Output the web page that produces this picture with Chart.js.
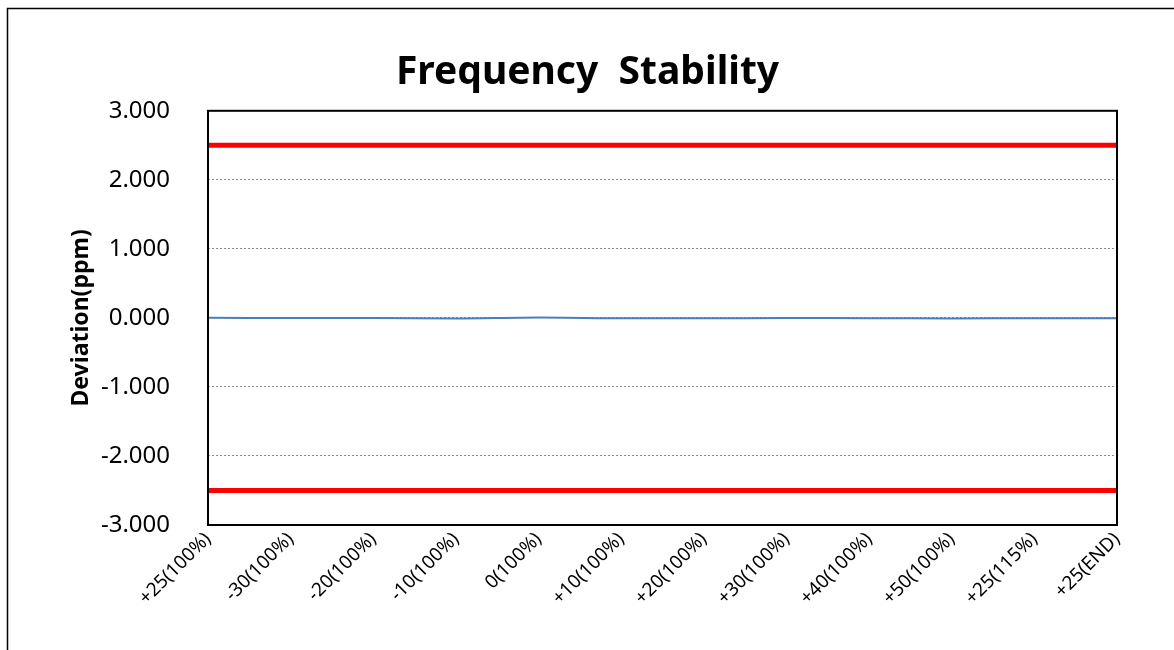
<!DOCTYPE html>
<html>
<head>
<meta charset="utf-8">
<script src="https://cdn.jsdelivr.net/npm/chart.js@4"></script>
<style>
  html, body { margin: 0; padding: 0; background: #fff; }
  #wrap { width: 1174px; height: 650px; }
</style>
</head>
<body>
<div id="wrap"><canvas id="myChart"></canvas></div>
<script>
// categories (temperature / supply condition)
var labels_Data = ["+25(100%)", "-30(100%)", "-20(100%)", "-10(100%)", "0(100%)", "+10(100%)",
  "+20(100%)", "+30(100%)", "+40(100%)", "+50(100%)", "+25(115%)", "+25(END)"];
// measured deviation, ppm
var deviation = [0.003, -0.002, -0.003, -0.008, 0.006, -0.006, -0.004, -0.003, -0.004, -0.008, -0.005, -0.004];
// limits, ppm
var upperLimit = [2.5, 2.5, 2.5, 2.5, 2.5, 2.5, 2.5, 2.5, 2.5, 2.5, 2.5, 2.5];
var lowerLimit = [-2.5, -2.5, -2.5, -2.5, -2.5, -2.5, -2.5, -2.5, -2.5, -2.5, -2.5, -2.5];
var yTicks = [-3, -2, -1, 0, 1, 2, 3];

var fontFam = "'Noto Sans', 'Open Sans', sans-serif";

// outer frame + plot box
const frames = {
  beforeDraw(chart) {
    const ctx = chart.ctx;
    ctx.save();
    ctx.fillStyle = "#fff";
    ctx.fillRect(0, 0, chart.width, chart.height);
    ctx.strokeStyle = "#000";
    ctx.lineWidth = 1.5;
    ctx.strokeRect(7.5, 8.5, 1300, 800);
    ctx.restore();
  },
  afterDraw(chart) {
    const { ctx, chartArea: a } = chart;
    ctx.save();
    ctx.strokeStyle = "#000";
    ctx.lineWidth = 2;
    ctx.strokeRect(a.left, a.top, a.right - a.left, a.bottom - a.top);
    ctx.restore();
  },
};

const config = {
  type: "line",
  data: {
    labels: labels_Data,
    datasets: [
      {
        label: "Deviation",
        data: deviation,
        borderColor: "#4a7ebb",
        borderWidth: 2,
        pointRadius: 0,
        tension: 0.3,
      },
      {
        label: "Upper",
        data: upperLimit,
        borderColor: "#ff0000",
        borderWidth: 5,
        pointRadius: 0,
      },
      {
        label: "Lower",
        data: lowerLimit,
        borderColor: "#ff0000",
        borderWidth: 5,
        pointRadius: 0,
      },
    ],
  },
  options: {
    responsive: true,
    maintainAspectRatio: false,
    animation: false,
    layout: { padding: { left: 58, right: 57, top: 0, bottom: 0 } },
    plugins: {
      legend: { display: false },
      tooltip: { enabled: false },
      title: {
        display: true,
        text: "Frequency  Stability",
        color: "#000",
        font: { family: fontFam, size: 39, weight: "bold" },
        padding: { top: 49, bottom: 15 },
      },
    },
    scales: {
      x: {
        offset: false,
        grid: { display: false },
        border: { display: false },
        ticks: {
          color: "#000",
          maxRotation: 45,
          minRotation: 45,
          autoSkip: false,
          padding: -5,
          font: { family: fontFam, size: 19 },
        },
        afterFit(scale) { scale.height = 125; },
      },
      y: {
        min: -3,
        max: 3,
        afterBuildTicks(scale) { scale.ticks = yTicks.map((v) => ({ value: v })); },
        grid: { color: "#8c8c8c", lineWidth: 1, drawTicks: false },
        border: { display: false, dash: [2, 2] },
        ticks: {
          color: "#000",
          padding: 38,
          font: { family: fontFam, size: 24 },
          callback: (v) => Number(v).toFixed(3),
        },
        title: {
          display: true,
          text: "Deviation(ppm)",
          color: "#000",
          font: { family: fontFam, size: 23, weight: "bold" },
          padding: { top: 10, bottom: 0 },
        },
        afterFit(scale) { scale.width = 150; },
      },
    },
  },
  plugins: [frames],
};

var chart = new Chart(document.getElementById("myChart"), config);
</script>
</body>
</html>
